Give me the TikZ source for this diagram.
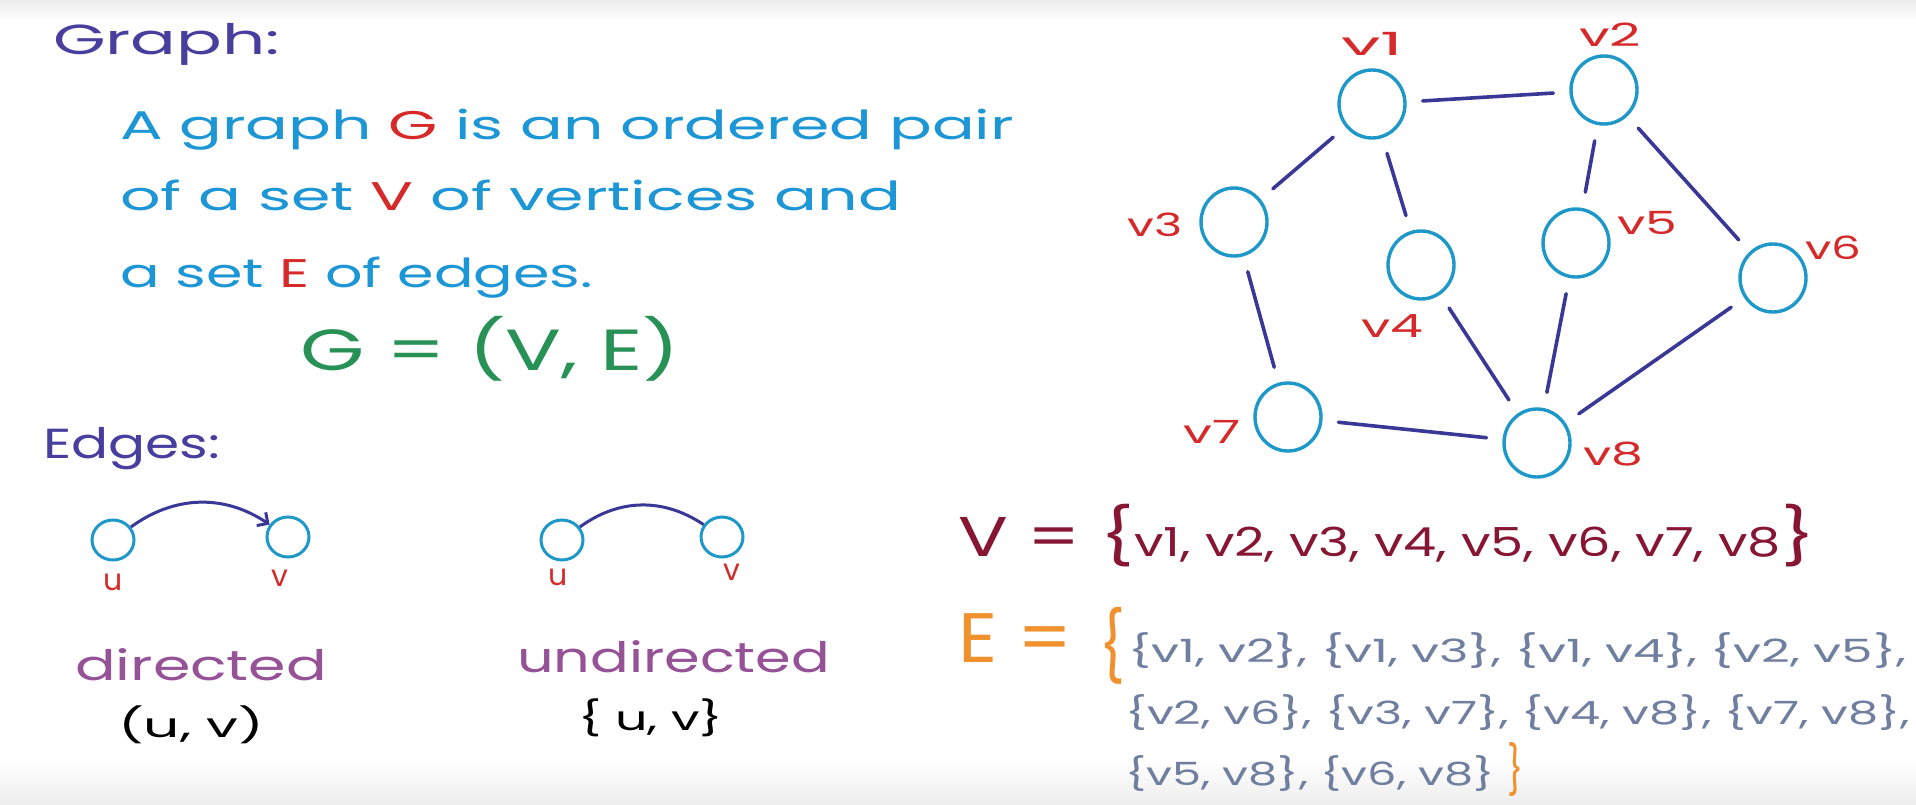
\documentclass[tikz,border=0pt]{standalone}
\usepackage{fontspec}
\setmainfont{Poppins}
\usepackage{graphicx}
\usetikzlibrary{shapes.geometric,arrows.meta}
\definecolor{hpurple}{RGB}{72,62,158}
\definecolor{hblue}{RGB}{28,150,212}
\definecolor{hred}{RGB}{214,42,42}
\definecolor{hgreen}{RGB}{40,145,85}
\definecolor{hmauve}{RGB}{150,82,150}
\definecolor{hmaroon}{RGB}{135,22,52}
\definecolor{horange}{RGB}{240,145,45}
\definecolor{hgray}{RGB}{112,126,160}
\definecolor{hedge}{RGB}{58,56,150}
\definecolor{hcirc}{RGB}{30,152,200}
\newcommand{\fitw}[2]{\resizebox{#1pt}{\height}{#2}}
\newcommand{\fs}[1]{\fontsize{#1}{#1}\selectfont}
\begin{document}
\begin{tikzpicture}[x=1pt,y=1pt,
 txt/.style={anchor=base west, inner sep=0pt, outer sep=0pt},
 vert/.style={ellipse, draw=hcirc, line width=3.4pt, minimum width=66pt, minimum height=68pt, inner sep=0pt},
 svert/.style={ellipse, draw=hcirc, line width=3pt, minimum width=42pt, minimum height=40pt, inner sep=0pt},
 vlabel/.style={text=hred, inner sep=0pt},
 gedge/.style={draw=hedge, line width=3.6pt, shorten >=16pt, shorten <=16pt, line cap=round},
 arcedge/.style={draw=hedge, line width=3pt},
]
\clip (0,0) rectangle (1916,-805);
\fill[white] (0,0) rectangle (1916,-805);
\shade[top color=black!7, bottom color=white] (0,0) rectangle (1916,-22);
\shade[top color=white, bottom color=black!7] (0,-760) rectangle (1916,-805);

% left texts
\node[txt, text=hpurple] (title) at (53,-55) {\fitw{227}{\fs{42}Graph:}};
\node[txt, text=hblue] (l1) at (120,-140) {\fitw{894}{\fs{40}A graph \textcolor{hred}{G} is an ordered pair}};
\node[txt, text=hblue] (l2) at (120,-210) {\fitw{781}{\fs{40}of a set \textcolor{hred}{V} of vertices and}};
\node[txt, text=hblue] (l3) at (120,-287) {\fitw{473}{\fs{40}a set \textcolor{hred}{E} of edges.}};
\node[txt, text=hgreen] (geq) at (300,-370) {\fitw{380}{\fs{58}G = (V, E)}};
\node[txt, text=hpurple] (edges) at (43,-458) {\fitw{177}{\fs{42}Edges:}};

% directed
\node[svert] (du) at (113,-540) {};
\node[svert] (dv) at (288,-537) {};
\node[vlabel, font=\fs{30}] (dul) at (113,-582) {u};
\node[vlabel, font=\fs{30}] (dvl) at (280,-578) {v};
\draw[arcedge, -{Straight Barb[length=8pt,width=16pt]}] (du) to[bend left=35] (dv);
\node[txt, text=hmauve] (dir) at (75,-680) {\fitw{252}{\fs{42}directed}};
\node[txt] (uvp) at (118,-737) {\fitw{146}{\fs{34}(u, v)}};

% undirected
\node[svert] (uu) at (562,-540) {};
\node[svert] (uv) at (722,-537) {};
\node[vlabel, font=\fs{30}] (uul) at (558,-577) {u};
\node[vlabel, font=\fs{30}] (uvl) at (732,-572) {v};
\draw[arcedge] (uu) to[bend left=35] (uv);
\node[txt, text=hmauve] (undir) at (517,-672) {\fitw{313}{\fs{42}undirected}};
\node[txt] (uvb) at (578,-730) {\fitw{145}{\fs{34}\{ u, v\}}};

% graph
\node[vert] (v1) at (1372,-104) {};
\node[vert] (v2) at (1604,-90) {};
\node[vert] (v3) at (1234,-222) {};
\node[vert] (v4) at (1421,-265) {};
\node[vert] (v5) at (1576,-243) {};
\node[vert] (v6) at (1773,-278) {};
\node[vert] (v7) at (1288,-417) {};
\node[vert] (v8) at (1537,-443) {};
\node[vlabel] (lv1) at (1372,-44) {\fitw{62}{\fs{32}v1}};
\node[vlabel] (lv2) at (1610,-35) {\fitw{62}{\fs{32}v2}};
\node[vlabel] (lv3) at (1155,-225) {\fitw{55}{\fs{32}v3}};
\node[vlabel] (lv4) at (1392,-326) {\fitw{62}{\fs{32}v4}};
\node[vlabel] (lv5) at (1647,-223) {\fitw{60}{\fs{32}v5}};
\node[vlabel] (lv6) at (1833,-248) {\fitw{56}{\fs{32}v6}};
\node[vlabel] (lv7) at (1212,-432) {\fitw{57}{\fs{32}v7}};
\node[vlabel] (lv8) at (1613,-454) {\fitw{60}{\fs{32}v8}};
\draw[gedge] (v1) -- (v2);
\draw[gedge] (v1) -- (v3);
\draw[gedge] (v1) -- (v4);
\draw[gedge] (v2) -- (v5);
\draw[gedge] (v2) -- (v6);
\draw[gedge] (v3) -- (v7);
\draw[gedge] (v4) -- (v8);
\draw[gedge] (v7) -- (v8);
\draw[gedge] (v5) -- (v8);
\draw[gedge] (v6) -- (v8);

% sets
\node[txt, text=hmaroon] (Vset) at (958,-556) {\fitw{857}{{\fs{56}V = \{}{\fs{40}v1, v2, v3, v4, v5, v6, v7, v8}{\fs{56}\}}}};
\node[txt, text=horange] (Eeq) at (958,-662) {\fitw{115}{\fs{70}E =}};
\node[text=horange, inner sep=0pt] (Ebr) at (1112,-646) {\resizebox*{26pt}{77pt}{\fs{40}\{}};
\node[txt, text=hgray] (e1) at (1128,-662) {\fitw{778}{\fs{32}\{v1, v2\}, \{v1, v3\}, \{v1, v4\}, \{v2, v5\},}};
\node[txt, text=hgray] (e2) at (1125,-724) {\fitw{785}{\fs{32}\{v2, v6\}, \{v3, v7\}, \{v4, v8\}, \{v7, v8\},}};
\node[txt, text=hgray] (e3) at (1125,-785) {\fitw{370}{\fs{32}\{v5, v8\}, \{v6, v8\}}};
\node[text=horange, inner sep=0pt] (Ebr2) at (1515,-770) {\resizebox*{16pt}{54pt}{\fs{40}\}}};
\end{tikzpicture}
\end{document}
